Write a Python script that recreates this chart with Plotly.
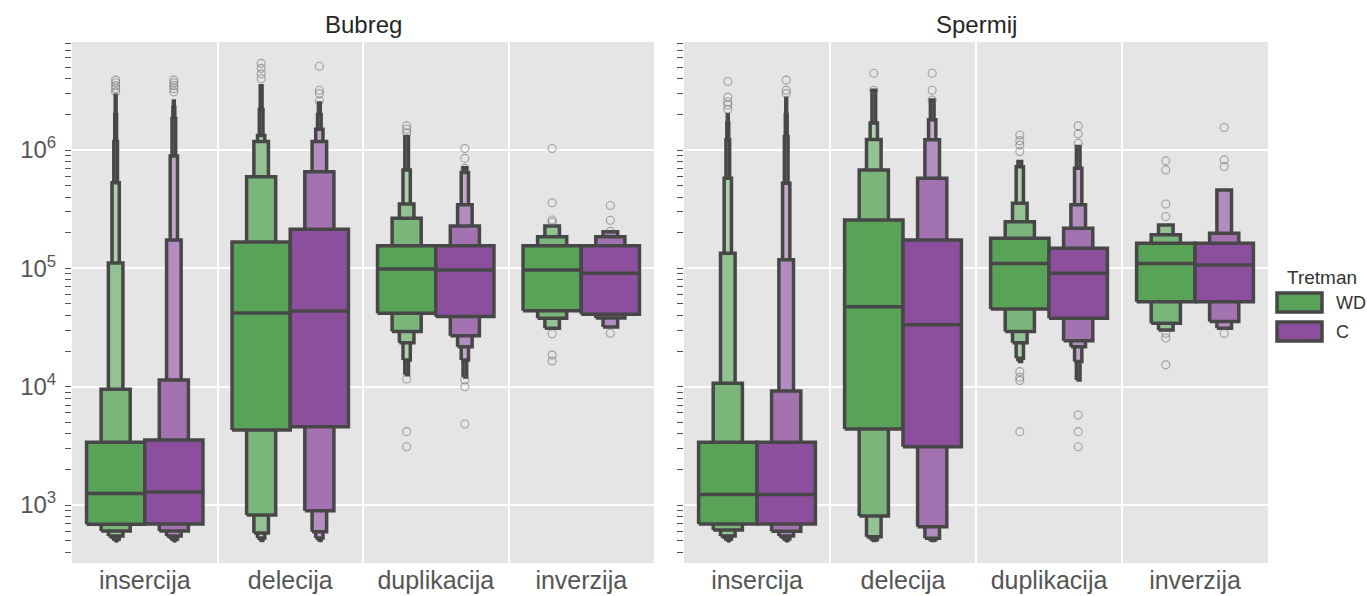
import plotly.graph_objects as go

# ---------------- data ----------------
CATEGORIES = ["insercija", "delecija", "duplikacija", "inverzija"]
PANELS = ["Bubreg", "Spermij"]
HUES = ["WD", "C"]

# Bubreg / WD  (letter values: level 0 = quartiles, then eighths, sixteenths, ...)
BUB_WD_MEDIAN = [1250, 42000, 98900, 97000]
BUB_WD_LOW = [[687, 603, 547, 516, 506, 502, 500],
              [4300, 822, 580, 526, 506, 501],
              [41700, 29200, 23500, 16800, 12600],
              [43800, 37900, 31200]]
BUB_WD_HIGH = [[3390, 9500, 111000, 530000, 1180000, 2000000, 2900000],
               [167000, 596000, 1180000, 1330000, 2200000, 3500000],
               [155000, 265000, 350000, 679000, 1300000],
               [155000, 185000, 228000]]
BUB_WD_OUT = [[3.1e6, 3.3e6, 3.5e6, 3.7e6, 3.9e6],
              [4.0e6, 4.4e6, 4.9e6, 5.4e6],
              [1.4e6, 1.5e6, 1.6e6, 11600, 4170, 3110],
              [1.03e6, 359000, 256000, 245000, 28000, 18500, 16500]]

# Bubreg / C
BUB_C_MEDIAN = [1290, 43700, 97000, 90800]
BUB_C_LOW = [[690, 603, 547, 516, 506, 502, 500],
             [4590, 895, 595, 526, 506, 501],
             [39100, 26900, 21800, 16800, 12100],
             [41000, 38000, 32000]]
BUB_C_HIGH = [[3540, 11400, 174000, 890000, 1850000, 2300000, 2600000],
              [214000, 656000, 1180000, 1500000, 2000000, 2500000],
              [155000, 228000, 344000, 645000, 710000],
              [155000, 185000, 204000]]
BUB_C_OUT = [[3.1e6, 3.3e6, 3.5e6, 3.7e6, 3.9e6],
             [2.6e6, 3.0e6, 3.2e6, 5.1e6],
             [700000, 850000, 1.03e6, 11400, 10000, 4840],
             [206000, 255000, 340000, 28300]]

# Spermij / WD
SPE_WD_MEDIAN = [1230, 47400, 110000, 110000]
SPE_WD_LOW = [[690, 615, 547, 516, 506, 502, 500],
              [4390, 807, 540, 510, 502],
              [45400, 29200, 23500, 17400, 16300],
              [52200, 34400, 30200]]
SPE_WD_HIGH = [[3390, 10700, 134000, 577000, 1220000, 1700000, 2000000],
               [256000, 679000, 1230000, 1690000, 3200000],
               [180000, 248000, 355000, 724000, 800000],
               [163000, 192000, 233000]]
SPE_WD_OUT = [[2.2e6, 2.4e6, 2.55e6, 2.8e6, 3.8e6],
              [3.2e6, 4.45e6],
              [970000, 1.1e6, 1.2e6, 1.34e6, 13400, 12000, 11300, 4170],
              [810000, 680000, 350000, 274000, 28300, 25800, 15300]]

# Spermij / C
SPE_C_MEDIAN = [1230, 33300, 90800, 107000]
SPE_C_LOW = [[690, 600, 547, 516, 506, 502, 500],
             [3110, 656, 523, 508, 502],
             [37900, 24500, 21800, 16300, 11400],
             [52200, 35500, 31200]]
SPE_C_HIGH = [[3390, 9200, 118000, 524000, 1300000, 2000000, 2740000],
              [174000, 577000, 1220000, 1800000, 2650000],
              [148000, 218000, 344000, 700000, 1070000],
              [163000, 198000, 460000]]
SPE_C_OUT = [[3.0e6, 3.2e6, 3.9e6],
             [2.65e6, 3.2e6, 4.45e6],
             [1.14e6, 1.37e6, 1.6e6, 5770, 4170, 3110],
             [1.55e6, 825000, 725000, 28200]]

# ---------------- style ----------------
W, H = 1367, 596
BASE = {"WD": (89, 163, 89), "C": (139, 79, 158)}
SHADE = [0.0, 0.2, 0.35, 0.5, 0.6, 0.7, 0.8]
EDGE = "#474747"
LW = 3.5
FONT = "Liberation Sans, Arial, sans-serif"


def col(rgb, f):
    r, g, b = (round(c + (255 - c) * f) for c in rgb)
    return f"rgb({r},{g},{b})"


GROUPS = {
    ("Bubreg", "WD"): (BUB_WD_MEDIAN, BUB_WD_LOW, BUB_WD_HIGH, BUB_WD_OUT),
    ("Bubreg", "C"): (BUB_C_MEDIAN, BUB_C_LOW, BUB_C_HIGH, BUB_C_OUT),
    ("Spermij", "WD"): (SPE_WD_MEDIAN, SPE_WD_LOW, SPE_WD_HIGH, SPE_WD_OUT),
    ("Spermij", "C"): (SPE_C_MEDIAN, SPE_C_LOW, SPE_C_HIGH, SPE_C_OUT),
}
OFFSET = {"WD": -0.2, "C": 0.2}
FULLW = 0.4

fig = go.Figure()

for pi, panel in enumerate(PANELS):
    xa = "x" if pi == 0 else "x2"
    ya = "y" if pi == 0 else "y2"
    for ci, cat in enumerate(CATEGORIES):
        for hue in HUES:
            med, low, high, out = GROUPS[(panel, hue)]
            xc = ci + OFFSET[hue]
            lows, highs = low[ci], high[ci]
            n = len(lows)
            # outermost first so that the wider inner boxes sit on top
            for j in range(n - 1, -1, -1):
                hw = FULLW / (2 ** j) / 2
                x0, x1 = xc - hw, xc + hw
                lo, hi = lows[j], highs[j]
                fig.add_trace(go.Scatter(
                    x=[x0, x1, x1, x0, x0], y=[lo, lo, hi, hi, lo],
                    mode="lines", fill="toself",
                    fillcolor=col(BASE[hue], SHADE[min(j, len(SHADE) - 1)]),
                    line=dict(color=EDGE, width=LW),
                    xaxis=xa, yaxis=ya, hoverinfo="skip", showlegend=False))
            # median
            fig.add_trace(go.Scatter(
                x=[xc - FULLW / 2, xc + FULLW / 2], y=[med[ci], med[ci]],
                mode="lines", line=dict(color=EDGE, width=LW),
                xaxis=xa, yaxis=ya, hoverinfo="skip", showlegend=False))
            # outliers
            fig.add_trace(go.Scatter(
                x=[xc] * len(out[ci]), y=out[ci], mode="markers",
                marker=dict(symbol="circle-open", size=8,
                            color="rgba(100,100,100,0.55)",
                            line=dict(width=1.1)),
                xaxis=xa, yaxis=ya, hoverinfo="skip", showlegend=False))

# ---------------- axes ----------------
yd = [1 - 563 / H, 1 - 42 / H]
xd1 = [72 / W, 654 / W]
xd2 = [684 / W, 1268 / W]

major_y = [1e3, 1e4, 1e5, 1e6]
minor_y = [k * 10 ** e for e in range(2, 7) for k in range(2, 10)
           if 330 <= k * 10 ** e <= 8.2e6]

xcommon = dict(
    range=[-0.5, 3.5], tickmode="array", tickvals=[0, 1, 2, 3],
    ticktext=CATEGORIES, showgrid=False, zeroline=False, showline=False,
    ticks="", tickfont=dict(size=25, color="#555555", family=FONT),
    minor=dict(tickvals=[0.5, 1.5, 2.5], showgrid=True,
               gridcolor="white", gridwidth=1.6, ticks=""),
)
ycommon = dict(
    type="log", range=[2.51, 6.913], tickmode="array", tickvals=major_y,
    ticktext=["10<sup>3</sup>", "10<sup>4</sup>", "10<sup>5</sup>", "10<sup>6</sup>"],
    showgrid=True, gridcolor="white", gridwidth=1.6, zeroline=False,
    showline=False, ticks="outside", ticklen=6, tickwidth=1.3,
    tickcolor="#555555", tickfont=dict(size=24, color="#555555", family=FONT),
    minor=dict(tickvals=minor_y, ticks="outside", ticklen=6, tickwidth=1.3,
               tickcolor="#555555", showgrid=False),
    domain=yd,
)

fig.update_layout(
    width=W, height=596, margin=dict(l=0, r=0, t=0, b=0),
    plot_bgcolor="#E5E5E5", paper_bgcolor="white",
    font=dict(family=FONT, color="#555555"), showlegend=False,
    xaxis=dict(domain=xd1, anchor="y", **xcommon),
    xaxis2=dict(domain=xd2, anchor="y2", **xcommon),
    yaxis=dict(anchor="x", ticklabelstandoff=4, **ycommon),
    yaxis2=dict(anchor="x2", matches="y", showticklabels=False,
                **{k: v for k, v in ycommon.items() if k not in ("ticktext",)}),
)

# subplot titles
for panel, d in zip(PANELS, [xd1, xd2]):
    fig.add_annotation(text=panel, x=(d[0] + d[1]) / 2, y=1 - 25 / H,
                       xref="paper", yref="paper", showarrow=False,
                       xanchor="center", yanchor="middle",
                       font=dict(size=24, color="#262626", family=FONT))

# legend (drawn manually to match the patch style)
fig.add_annotation(text="Tretman", x=1322 / W, y=1 - 277 / H, xref="paper",
                   yref="paper", showarrow=False, xanchor="center",
                   yanchor="middle", font=dict(size=19, color="#333333", family=FONT))
for i, hue in enumerate(HUES):
    top = 293 + i * 29
    fig.add_shape(type="rect", xref="paper", yref="paper",
                  x0=1277 / W, x1=1322 / W, y0=1 - (top + 19) / H, y1=1 - top / H,
                  fillcolor=col(BASE[hue], 0), line=dict(color=EDGE, width=LW))
    fig.add_annotation(text=hue, x=1334 / W, y=1 - (top + 9.5) / H, xref="paper",
                       yref="paper", showarrow=False, xanchor="left",
                       yanchor="middle", font=dict(size=18, color="#333333", family=FONT))

fig.write_html(
    "out.html",
    config={"displayModeBar": False},
    post_script="document.body.style.margin='0px';"
                "document.body.style.overflow='hidden';",
)
